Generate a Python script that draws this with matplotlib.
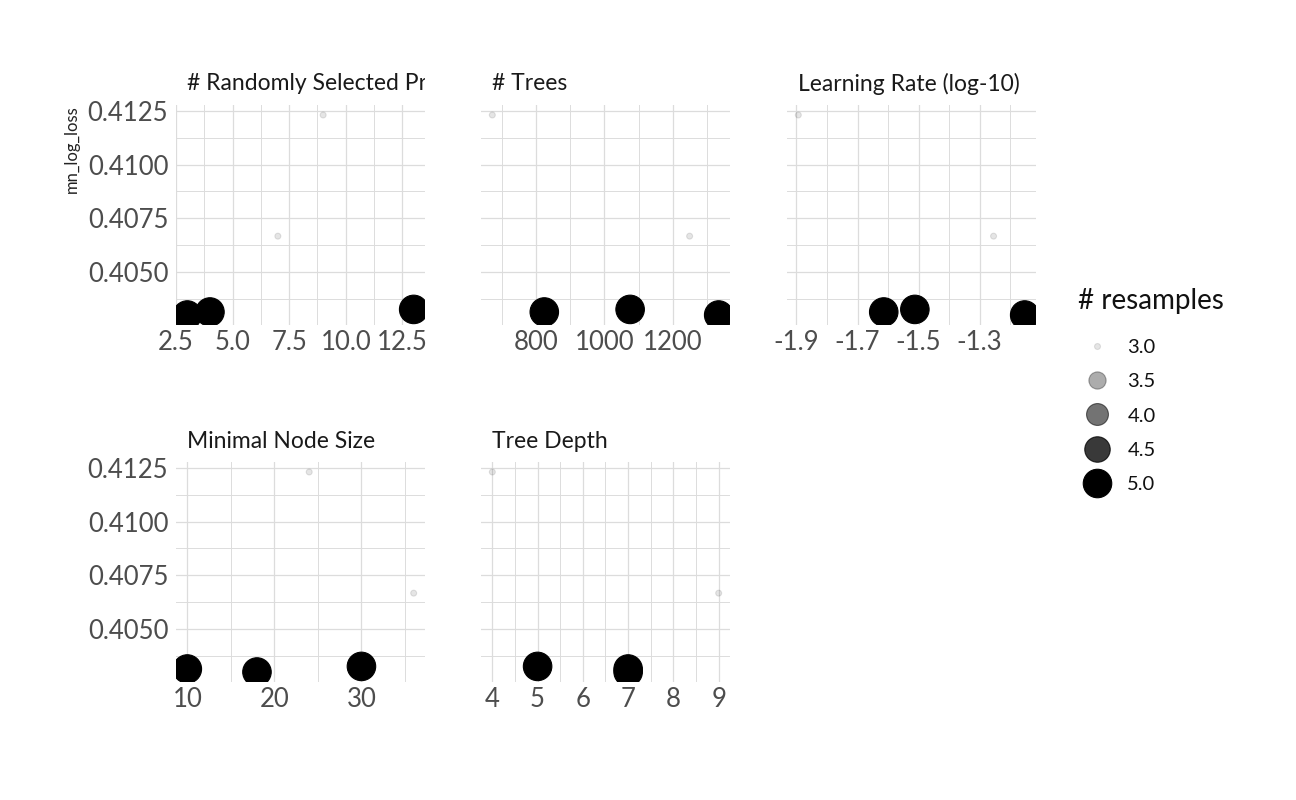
import numpy as np
import matplotlib
matplotlib.use("Agg")
import matplotlib.pyplot as plt
from matplotlib.lines import Line2D

# one entry per tuning candidate
mtry = [9, 7, 4, 13, 3]
trees = [672, 1249, 824, 1075, 1334]
learn_rate_log10 = [-1.894, -1.254, -1.614, -1.512, -1.152]
min_n = [24, 36, 10, 30, 18]
tree_depth = [4, 9, 7, 5, 7]
mn_log_loss = [0.41231, 0.40667, 0.40314, 0.40326, 0.40300]
n_resamples = [3, 3, 5, 5, 5]

panel_titles = ["# Randomly Selected Predictors", "# Trees", "Learning Rate (log-10)",
                "Minimal Node Size", "Tree Depth"]
panel_x = [mtry, trees, learn_rate_log10, min_n, tree_depth]
x_major = [[2.5, 5.0, 7.5, 10.0, 12.5], [800, 1000, 1200], [-1.9, -1.7, -1.5, -1.3],
           [10, 20, 30], [4, 5, 6, 7, 8, 9]]
x_labels = [["2.5", "5.0", "7.5", "10.0", "12.5"], ["800", "1000", "1200"],
            ["-1.9", "-1.7", "-1.5", "-1.3"], ["10", "20", "30"], ["4", "5", "6", "7", "8", "9"]]
y_major = [0.4050, 0.4075, 0.4100, 0.4125]
y_labels = ["0.4050", "0.4075", "0.4100", "0.4125"]
legend_breaks = [3.0, 3.5, 4.0, 4.5, 5.0]

FONT = "Lato"
plt.rcParams["font.family"] = [FONT, "DejaVu Sans"]


def expand(vals, mult=0.05):
    lo, hi = min(vals), max(vals)
    pad = (hi - lo) * mult
    return lo - pad, hi + pad


def minors(major):
    step = major[1] - major[0]
    return [major[0] - step / 2] + [v + step / 2 for v in major]


def frac(n):
    return (n - min(legend_breaks)) / (max(legend_breaks) - min(legend_breaks))


def diam_pt(n):
    # ggplot area palette (range 1..6) plus stroke
    return 28.5 * 0.72 * (1.33 + 5 * np.sqrt(frac(n))) / 6.33


def rgba(n):
    return (0, 0, 0, 0.1 + 0.9 * frac(n))


W, H = 1296, 800
fig = plt.figure(figsize=(W / 100, H / 100), dpi=100)
cols = [176, 481, 787]
rows = [105, 462]
pw, ph = 249, 220
slots = [(0, 0), (0, 1), (0, 2), (1, 0), (1, 1)]
grid_col = "#dcdcdc"

for i, (r, c) in enumerate(slots):
    left, top = cols[c], rows[r]
    ax = fig.add_axes([left / W, 1 - (top + ph) / H, pw / W, ph / H])
    xs = panel_x[i]
    sizes = [diam_pt(n) ** 2 for n in n_resamples]
    colors = [rgba(n) for n in n_resamples]
    ax.scatter(xs, mn_log_loss, s=sizes, c=colors, edgecolors=colors, linewidths=0.8, zorder=3)
    ax.set_xticks(x_major[i])
    ax.set_xticks(minors(x_major[i]), minor=True)
    ax.set_yticks(y_major)
    ax.set_yticks(minors(y_major), minor=True)
    ax.set_xticklabels(x_labels[i])
    if c == 0:
        ax.set_yticklabels(y_labels)
    else:
        ax.set_yticklabels([])
    ax.set_xlim(*expand(xs))
    ax.set_ylim(*expand(mn_log_loss))
    ax.tick_params(which="both", length=0, labelsize=18.5, labelcolor="#4d4d4d")
    ax.tick_params(axis="y", pad=5.5)
    ax.tick_params(axis="x", pad=3.5)
    ax.grid(which="major", color=grid_col, lw=0.9)
    ax.grid(which="minor", color=grid_col, lw=0.7)
    ax.set_axisbelow(True)
    for sp in ax.spines.values():
        sp.set_visible(False)
    if i == 0:
        ax.set_ylabel("mn_log_loss", loc="top", fontsize=12, color="#222222", labelpad=6)

    strip = fig.add_axes([left / W, 1 - (top - 3) / H, pw / W, 36 / H])
    strip.axis("off")
    strip.text(11 / pw, 0.5, panel_titles[i], transform=strip.transAxes, ha="left", va="center",
               fontsize=16.5, color="#1a1a1a", clip_on=True)

# legend
fig.text(1078 / W, 1 - 301 / H, "# resamples", ha="left", va="center", fontsize=20, color="#111111")
handles = [Line2D([], [], ls="none", marker="o", markersize=diam_pt(b), markerfacecolor=rgba(b),
                  markeredgecolor=rgba(b), markeredgewidth=0.8) for b in legend_breaks]
labels = [f"{b:.1f}" for b in legend_breaks]
fig.legend(handles, labels, loc="upper left", bbox_to_anchor=(1077 / W, 1 - 339 / H),
           frameon=False, fontsize=14.5, borderpad=0, borderaxespad=0, labelspacing=0.85,
           handlelength=2.0, handletextpad=0.5, labelcolor="#111111")

fig.savefig("out.png", dpi=100, facecolor="white")
